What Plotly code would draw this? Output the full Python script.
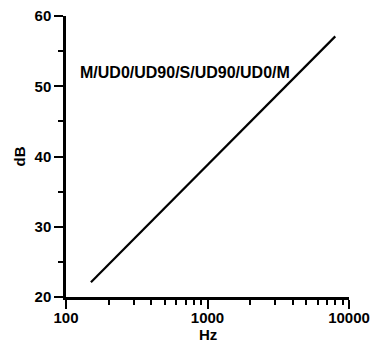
import plotly.graph_objects as go

freq_hz = [150, 8000]
level_db = [22.1, 57.1]
label_text = "M/UD0/UD90/S/UD90/UD0/M"
x_ticks = [100, 1000, 10000]
x_minor_ticks = [200, 300, 400, 500, 600, 700, 800, 900,
                 2000, 3000, 4000, 5000, 6000, 7000, 8000, 9000]
y_ticks = [20, 30, 40, 50, 60]

fig = go.Figure()
fig.add_trace(go.Scatter(x=freq_hz, y=level_db, mode="lines",
                         line=dict(color="black", width=2.2), showlegend=False))

font = dict(family="Liberation Sans, Arial", size=15, color="black", weight="bold")

fig.update_layout(
    width=371, height=342,
    margin=dict(l=66, r=22, t=16, b=45),
    plot_bgcolor="white", paper_bgcolor="white",
    font=font,
    xaxis=dict(type="log", range=[2, 4], tickvals=x_ticks,
               ticktext=[str(v) for v in x_ticks], tickfont=font,
               ticklabelstandoff=-4,
               showline=True, linecolor="black", linewidth=2.5,
               ticks="outside", ticklen=9, tickwidth=2, tickcolor="black",
               showgrid=False, zeroline=False, automargin=False,
               minor=dict(tickvals=x_minor_ticks, ticks="outside", ticklen=5,
                          tickwidth=2, tickcolor="black", showgrid=False)),
    yaxis=dict(range=[20, 60], tickvals=y_ticks,
               ticktext=[str(v) for v in y_ticks], tickfont=font,
               showline=True, linecolor="black", linewidth=2.5,
               ticks="outside", ticklen=9, tickwidth=2, tickcolor="black",
               showgrid=False, zeroline=False, automargin=False,
               minor=dict(dtick=5, ticks="outside", ticklen=5, tickwidth=2,
                          tickcolor="black", showgrid=False),
               title=dict(text="dB", standoff=6, font=font)),
    annotations=[
        dict(text=label_text, xref="paper", yref="paper",
             x=0.042, y=0.80, xanchor="left", yanchor="middle",
             showarrow=False,
             font=dict(family="Liberation Sans, Arial", size=16,
                       color="black", weight="bold")),
        dict(text="Hz", xref="paper", yref="paper",
             x=0.5, y=-0.133, xanchor="center", yanchor="middle",
             showarrow=False, font=font),
    ],
)

fig.write_html("out.html")
